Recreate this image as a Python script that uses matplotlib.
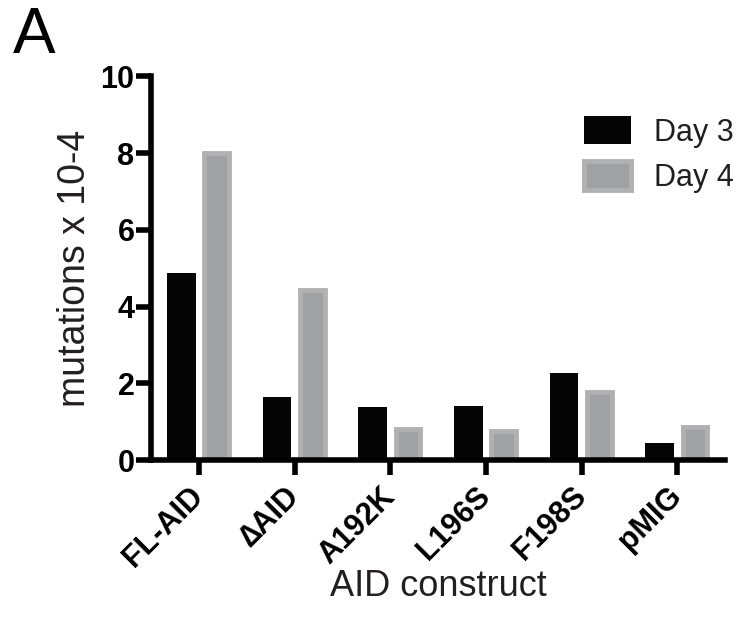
import numpy as np
import matplotlib
matplotlib.use('Agg')
import matplotlib.pyplot as plt

plt.rcParams['font.family'] = ['Liberation Sans', 'DejaVu Sans']

constructs = ['FL-AID', '\u2206AID', 'A192K', 'L196S', 'F198S', 'pMIG']
day3 = [4.87, 1.64, 1.39, 1.40, 2.26, 0.44]
day4 = [8.0, 4.43, 0.80, 0.76, 1.77, 0.85]

fig = plt.figure(figsize=(7.37, 6.2), dpi=100)
ax = fig.add_axes([0.205, 0.258, 0.779, 0.619])

x = np.arange(len(constructs))
w = 0.30
ax.bar(x - 0.185, day3, w, color='#050505', label='Day 3', zorder=2)
ax.bar(x + 0.185, day4, w - 0.045, color='#a0a1a4', edgecolor='#b1b1b3',
       linewidth=3.5, label='Day 4', zorder=2)

ax.set_xlim(-0.5, 5.5)
ax.set_ylim(0, 10)
ax.set_yticks([0, 2, 4, 6, 8, 10])
ax.set_xticks(x)
ax.set_xticklabels(constructs, rotation=45, ha='right', va='center',
                   rotation_mode='anchor', fontsize=22, fontweight='bold')
for lab in ax.get_yticklabels():
    lab.set_fontsize(22)
    lab.set_fontweight('bold')

for s in ['top', 'right']:
    ax.spines[s].set_visible(False)
for s in ['left', 'bottom']:
    ax.spines[s].set_linewidth(4)
    ax.spines[s].set_zorder(3)
ax.tick_params(axis='both', width=4, length=11, direction='out')
ax.tick_params(axis='y', pad=1)
ax.tick_params(axis='x', pad=12)

ax.set_ylabel('mutations x 10-4', fontsize=27, color='#231f20', labelpad=5)
ax.set_xlabel('AID construct', fontsize=26, color='#231f20', labelpad=-3)

leg = ax.legend(loc='upper right', bbox_to_anchor=(1.063, 0.968), frameon=False,
                fontsize=22, handlelength=1.55, handleheight=1.05,
                handletextpad=0.75, labelspacing=0.45)
for t in leg.get_texts():
    t.set_color('#231f20')

fig.text(0.018, 0.99, 'A', fontsize=46, va='top', ha='left')

fig.savefig('out.png', dpi=100)
